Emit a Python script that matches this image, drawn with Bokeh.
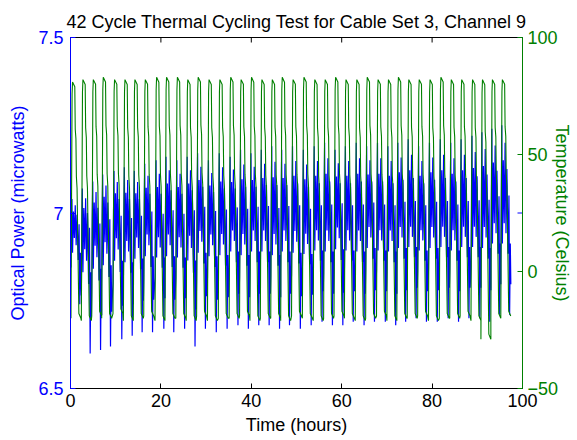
import math
from bokeh.plotting import figure
from bokeh.models import Range1d, LinearAxis, FixedTicker
from bokeh.embed import file_html
from bokeh.resources import INLINE

# ---- data (per thermal cycle) ----
cycle_peak_time = [0.4, 2.7, 5.0, 7.2, 9.7, 12.0, 14.2, 16.5, 19.0, 21.2, 23.6, 25.9, 28.2, 30.6,
                   33.0, 35.4, 37.7, 40.0, 42.3, 44.6, 46.8, 49.2, 51.6, 54.0, 56.3, 58.6, 60.9, 63.3,
                   65.6, 68.0, 70.3, 72.5, 74.8, 77.1, 79.5, 81.9, 84.2, 86.5, 88.9, 91.1, 93.3, 95.5]
temp_peak = [81, 82, 82, 83, 82, 82, 82, 82, 83, 83, 83, 82, 83, 82, 82, 83, 82, 83, 82, 82, 83,
             82, 83, 82, 82, 83, 82, 82, 83, 82, 82, 83, 82, 82, 82, 83, 82, 82, 82, 82, 82, 82]
temp_low = [-20, -21, -19, -20, -18, -21, -20, -19, -21, -20, -20, -21, -19, -21, -20, -20, -19, -21,
            -20, -20, -21, -19, -20, -21, -20, -19, -20, -21, -20, -19, -21, -20, -20, -19, -21, -20,
            -20, -19, -21, -29, -20, -19]
power_high = [7.04, 7.07, 7.09, 7.11, 7.12, 7.13, 7.12, 7.14, 7.15, 7.16, 7.15, 7.16, 7.17, 7.15,
              7.17, 7.16, 7.18, 7.17, 7.18, 7.19, 7.18, 7.19, 7.18, 7.19, 7.20, 7.18, 7.19, 7.20,
              7.19, 7.20, 7.19, 7.20, 7.21, 7.19, 7.20, 7.21, 7.20, 7.21, 7.22, 7.23, 7.24, 7.25]
power_low = [6.74, 6.60, 6.61, 6.62, 6.64, 6.65, 6.66, 6.66, 6.67, 6.66, 6.67, 6.62, 6.67, 6.66,
             6.67, 6.68, 6.67, 6.68, 6.68, 6.67, 6.68, 6.67, 6.68, 6.69, 6.68, 6.68, 6.69, 6.68,
             6.69, 6.69, 6.68, 6.69, 6.70, 6.69, 6.69, 6.70, 6.69, 6.70, 6.70, 6.69, 6.71, 6.71]
power_mid = [6.95, 6.93, 6.94, 6.95, 6.96, 6.95, 6.96, 6.97, 6.96, 6.97, 6.96, 6.97, 6.98, 6.97,
             6.97, 6.98, 6.97, 6.98, 6.98, 6.97, 6.98, 6.98, 6.97, 6.98, 6.98, 6.99, 6.98, 6.98,
             6.99, 6.98, 6.98, 6.99, 6.99, 6.98, 6.99, 6.99, 6.98, 6.99, 6.99, 6.99, 7.00, 7.00]

x_ticks = [0, 20, 40, 60, 80, 100]
left_ticks = [6.5, 7.0, 7.5]
right_ticks = [-50, 0, 50, 100]

# shape of one cycle (hours from peak, fraction between low and peak)
temp_shape = [(-0.30, 0.0), (-0.05, 0.95), (0.05, 1.0), (0.55, 0.98), (0.65, 0.80), (0.80, 0.76),
              (0.90, 0.60), (1.05, 0.55), (1.45, 0.02), (1.90, 0.0)]
power_shape = [(-0.30, -0.5), (-0.18, 0.3), (-0.08, 1.0), (0.05, -0.3), (0.25, 0.6), (0.45, -0.1),
               (0.65, 0.8), (0.85, -0.2), (1.05, 0.5), (1.30, -0.4), (1.50, 0.2), (1.65, -1.0),
               (1.80, -0.3), (1.92, -0.7)]

t_temp, v_temp, t_pow, v_pow = [], [], [], []
for i, tp in enumerate(cycle_peak_time):
    for dt, f in temp_shape:
        t_temp.append(tp + dt)
        v_temp.append(temp_low[i] + f * (temp_peak[i] - temp_low[i]))
    for dt, a in power_shape:
        t_pow.append(tp + dt)
        m = power_mid[i]
        v_pow.append(m + a * (power_high[i] - m) if a >= 0 else m + a * (m - power_low[i]))

FONT = "Liberation Sans"
FS = "18px"
BLUE = "#0000FF"
GREEN = "#008000"

p = figure(width=577, height=440, x_range=Range1d(0, 100), y_range=Range1d(6.5, 7.5),
           output_backend="svg", toolbar_location=None,
           min_border_left=70, min_border_right=55, min_border_top=37, min_border_bottom=52)
p.extra_y_ranges = {"temp": Range1d(-50, 100)}
p.xgrid.visible = False
p.ygrid.visible = False
p.outline_line_color = "black"
p.outline_line_width = 1
p.background_fill_color = "white"
p.border_fill_color = "white"

p.title.text = "42 Cycle Thermal Cycling Test for Cable Set 3, Channel 9"
p.title.align = "center"
p.title.text_font = FONT
p.title.text_font_size = FS
p.title.text_font_style = "normal"
p.title.text_color = "black"
p.title.standoff = 11

p.line(t_pow, v_pow, line_color=BLUE, line_width=1.2)
p.line(t_temp, v_temp, line_color=GREEN, line_width=1.1, y_range_name="temp")

# box ticks on the top edge and mirrored power ticks on the right edge (MATLAB box style)
p.scatter(x_ticks, [7.5] * len(x_ticks), marker="dash", angle=math.pi / 2, size=10,
          line_color="black", line_width=1)
p.scatter([100] * len(left_ticks), left_ticks, marker="dash", size=10,
          line_color=BLUE, line_width=1)


def style(ax, color, label_color):
    ax.axis_line_color = color
    ax.major_tick_line_color = color
    ax.major_tick_in = 5
    ax.major_tick_out = 0
    ax.minor_tick_line_color = None
    ax.major_label_text_font = FONT
    ax.major_label_text_font_size = FS
    ax.major_label_text_color = label_color
    ax.axis_label_text_font = FONT
    ax.axis_label_text_font_size = FS
    ax.axis_label_text_font_style = "normal"
    ax.axis_label_text_color = label_color


xa = p.xaxis[0]
xa.ticker = FixedTicker(ticks=x_ticks)
xa.axis_label = "Time (hours)"
style(xa, "black", "black")
xa.major_label_standoff = 5
xa.axis_label_standoff = 5

ya = p.yaxis[0]
ya.ticker = FixedTicker(ticks=left_ticks)
ya.axis_label = "Optical Power (microwatts)"
style(ya, BLUE, BLUE)
ya.major_label_standoff = 7
ya.axis_label_standoff = 7

ra = LinearAxis(y_range_name="temp", ticker=FixedTicker(ticks=right_ticks),
                axis_label="Temperature (Celsius)")
style(ra, GREEN, GREEN)
ra.major_label_standoff = 5
ra.axis_label_standoff = -9
p.add_layout(ra, "right")

open("out.html", "w").write(file_html(p, INLINE))
